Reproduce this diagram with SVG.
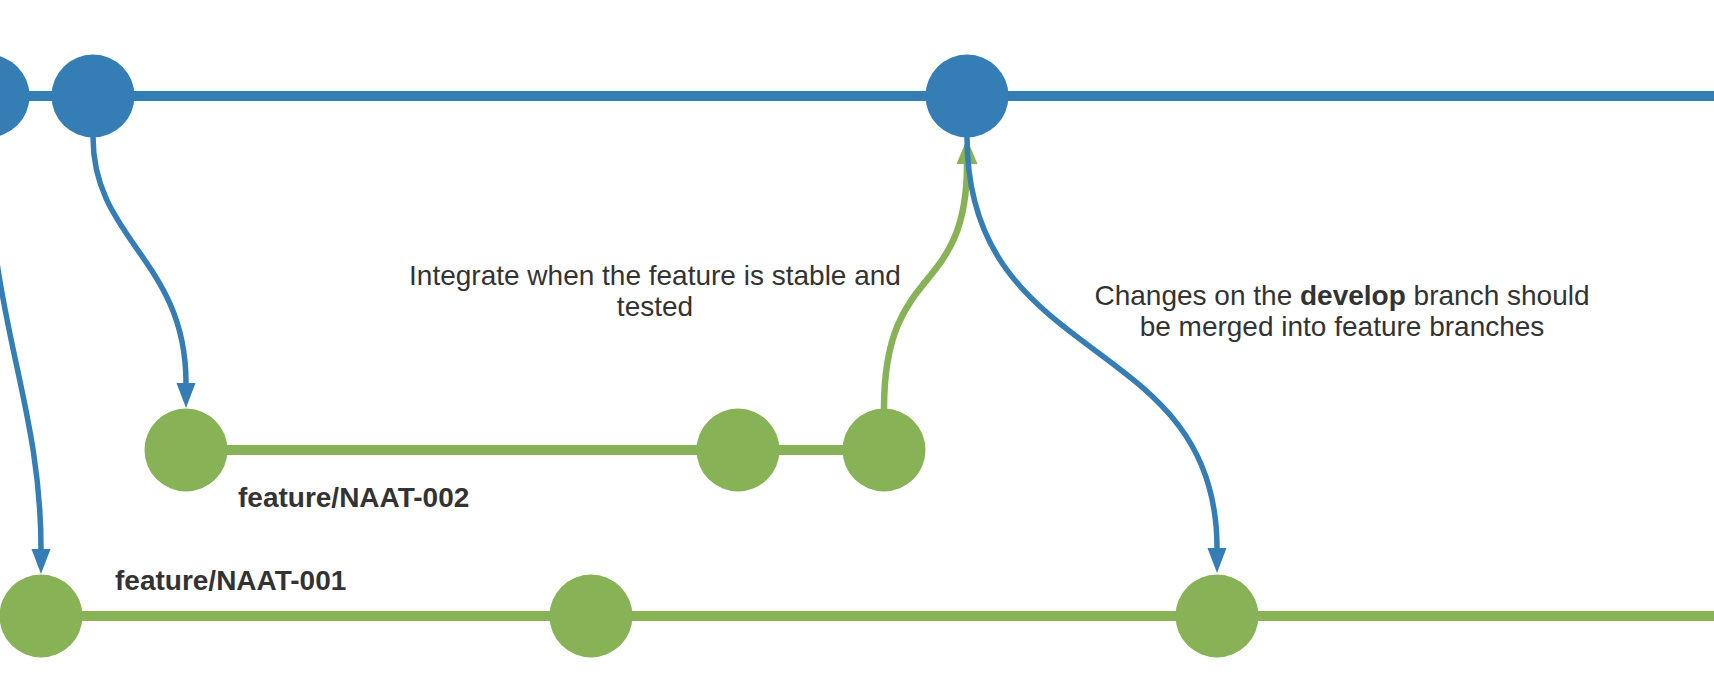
<svg xmlns="http://www.w3.org/2000/svg" width="1714" height="676" viewBox="0 0 1714 676">
<style>
.bl{fill:#347db5}
.gr{fill:#87b356}
.bline{stroke:#347db5;stroke-width:10;fill:none}
.gline{stroke:#87b356;stroke-width:10;fill:none}
.bc{stroke:#347db5;stroke-width:5.5;fill:none}
.gc{stroke:#87b356;stroke-width:6.5;fill:none}
.t{font-family:"Liberation Sans",Arial,sans-serif;font-size:28px;fill:#333333}
.tb{font-family:"Liberation Sans",Arial,sans-serif;font-size:28px;font-weight:bold;fill:#333333}
</style>
<defs>
<marker id="ab" markerUnits="userSpaceOnUse" markerWidth="26" markerHeight="20" refX="0" refY="10" orient="auto" overflow="visible">
<path d="M0,0.5 L25,10 L0,19.5 z" fill="#347db5"/>
</marker>
<marker id="ag" markerUnits="userSpaceOnUse" markerWidth="26" markerHeight="22" refX="0" refY="11" orient="auto" overflow="visible">
<path d="M0,0.5 L25,11 L0,21.5 z" fill="#87b356"/>
</marker>
</defs>
<rect width="1714" height="676" fill="#ffffff"/>
<g id="connectors">
<path class="bline" d="M0,96 H1714"/>
<path class="gline" d="M186,450 H884"/>
<path class="gline" d="M41,616 H1714"/>
<path class="bc" d="M-12,137 C-12,320 41,400 41,549" marker-end="url(#ab)"/>
<path class="bc" d="M93,137 C93,240 186,260 186,383" marker-end="url(#ab)"/>
<path class="gc" d="M884,409 C884,260 967,300 967,164" marker-end="url(#ag)"/>
<path class="bc" d="M967,137 C967,370 1217,330 1217,548" marker-end="url(#ab)"/>
</g>
<g id="develop-0"><circle class="bl" cx="-12" cy="96" r="41.5"/></g>
<g id="develop-1"><circle class="bl" cx="93" cy="96" r="41.5"/></g>
<g id="develop-2"><circle class="bl" cx="967" cy="96" r="41.5"/></g>
<g id="f2-1"><circle class="gr" cx="186" cy="450" r="41.5"/></g>
<g id="f2-2"><circle class="gr" cx="738" cy="450" r="41.5"/></g>
<g id="f2-3"><circle class="gr" cx="884" cy="450" r="41.5"/></g>
<g id="f1-1"><circle class="gr" cx="41" cy="616" r="41.5"/></g>
<g id="f1-2"><circle class="gr" cx="591" cy="616" r="41.5"/></g>
<g id="f1-3"><circle class="gr" cx="1217" cy="616" r="41.5"/></g>
<g id="label-integrate">
<text class="t" x="655" y="285" text-anchor="middle">Integrate when the feature is stable and</text>
<text class="t" x="655" y="316" text-anchor="middle">tested</text>
</g>
<g id="label-changes">
<text class="t" x="1342" y="305" text-anchor="middle">Changes on the <tspan font-weight="bold">develop</tspan> branch should</text>
<text class="t" x="1342" y="336" text-anchor="middle">be merged into feature branches</text>
</g>
<g id="label-f2"><text class="tb" x="238" y="507">feature/NAAT-002</text></g>
<g id="label-f1"><text class="tb" x="115" y="590">feature/NAAT-001</text></g>
</svg>
